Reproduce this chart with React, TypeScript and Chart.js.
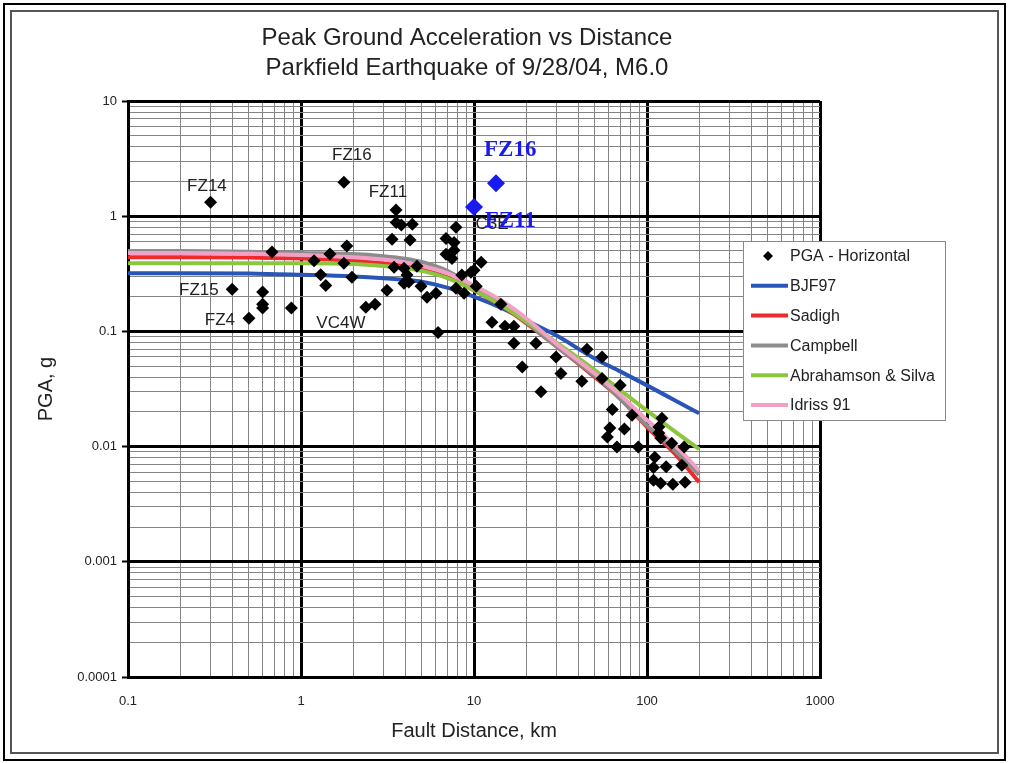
import React, { useEffect, useRef } from 'react';
import { Chart, registerables } from 'chart.js';

Chart.register(...registerables);

// ---------- data ----------
const pgaDistance = [
  0.3, 0.4, 0.5, 0.6, 0.6, 0.6, 0.68, 0.88, 1.19, 1.3, 1.39, 1.47, 1.77, 1.77, 1.84, 1.97,
  2.37, 2.68, 3.14, 3.36, 3.45, 3.54, 3.55, 3.8, 4.4, 3.94, 4.1, 3.94, 4.2, 4.27, 4.68, 4.94,
  5.35, 6.03, 6.2, 6.89, 7.67, 7.87, 6.89, 7.46, 7.67, 7.87, 8.5, 8.76, 9.6, 10.3, 11.0, 10.0,
  14.3, 12.7, 15.1, 17.0, 17.0, 22.8, 19.0, 24.4, 29.8, 31.8, 45, 55, 42, 55, 70, 63, 82, 61,
  74, 59, 67, 89, 122, 117, 117, 120, 139, 164, 111, 109, 129, 159, 109, 120, 141, 166,
];
const pgaValues = [
  1.32, 0.232, 0.13, 0.22, 0.172, 0.16, 0.49, 0.16, 0.41, 0.31, 0.25, 0.47, 1.97, 0.39, 0.55, 0.295,
  0.162, 0.172, 0.228, 0.63, 0.36, 1.13, 0.88, 0.84, 0.85, 0.354, 0.308, 0.262, 0.268, 0.62, 0.368, 0.247,
  0.198, 0.214, 0.098, 0.64, 0.59, 0.8, 0.468, 0.43, 0.507, 0.237, 0.308, 0.214, 0.326, 0.247, 0.398, 0.34,
  0.172, 0.12, 0.111, 0.111, 0.079, 0.079, 0.049, 0.03, 0.06, 0.043, 0.07, 0.06, 0.037, 0.039, 0.034, 0.021, 0.0187, 0.0145,
  0.0142, 0.0121, 0.0099, 0.0099, 0.0176, 0.0148, 0.0131, 0.0119, 0.0107, 0.0099, 0.0081, 0.0066, 0.0067, 0.0069, 0.0051, 0.0048, 0.0047, 0.0049,
];

const overlayDistance = [13.4, 10.0];
const overlayValues = [1.93, 1.2];

const modelDistance = [0.1, 0.2, 0.5, 1, 2, 3, 4, 5, 7, 10, 15, 20, 30, 50, 70, 100, 150, 200];
const bjf97 = [0.32, 0.32, 0.318, 0.31, 0.3, 0.29, 0.28, 0.27, 0.24, 0.2, 0.155, 0.125, 0.092, 0.058, 0.045, 0.034, 0.0245, 0.0195];
const sadigh = [0.44, 0.44, 0.437, 0.43, 0.41, 0.39, 0.368, 0.345, 0.295, 0.228, 0.16, 0.118, 0.074, 0.04, 0.026, 0.0148, 0.0082, 0.0049];
const campbell = [0.5, 0.5, 0.492, 0.48, 0.47, 0.45, 0.428, 0.4, 0.335, 0.245, 0.165, 0.12, 0.074, 0.041, 0.026, 0.0152, 0.0088, 0.0057];
const abrahamsonSilva = [0.39, 0.39, 0.39, 0.39, 0.385, 0.37, 0.355, 0.335, 0.29, 0.228, 0.162, 0.122, 0.08, 0.046, 0.031, 0.0205, 0.013, 0.0095];
const idriss91 = [0.48, 0.48, 0.472, 0.46, 0.44, 0.42, 0.396, 0.37, 0.32, 0.25, 0.178, 0.13, 0.078, 0.043, 0.028, 0.017, 0.0098, 0.0062];

const xTickLabels = ['0.1', '1', '10', '100', '1000'];
const yTickLabels = ['0.0001', '0.001', '0.01', '0.1', '1', '10'];

const titleLines = ['Peak Ground Acceleration vs Distance', 'Parkfield Earthquake of 9/28/04, M6.0'];
const xTitle = 'Fault Distance, km';
const yTitle = 'PGA, g';

// station annotations (anchored in data coordinates)
const stationText = ['FZ14', 'FZ15', 'FZ4', 'VC4W', 'FZ16', 'FZ11', 'C3E'];
const stationX = [0.286, 0.257, 0.34, 1.7, 1.97, 3.18, 12.7];
const stationY = [1.82, 0.228, 0.125, 0.118, 3.39, 1.62, 0.85];
const overlayText = ['FZ16', 'FZ11'];
const overlayTextX = [16.2, 16.2];
const overlayTextY = [3.74, 0.9];

// ---------- helpers ----------
const FONT = '"Liberation Sans", Arial, Helvetica, sans-serif';
const TEXT = '#222222';
const xMajors = xTickLabels.map(Number);
const yMajors = yTickLabels.map(Number);

const isMajor = (majors: number[], v: number) =>
  v != null && majors.some((m) => Math.abs(Math.log10(m) - Math.log10(v)) < 1e-6);

function buildTicks(majors: number[]) {
  const out: { value: number; major: boolean }[] = [];
  majors.forEach((m, i) => {
    out.push({ value: m, major: true });
    if (i < majors.length - 1) {
      for (let k = 2; k <= 9; k++) out.push({ value: Number((m * k).toPrecision(6)), major: false });
    }
  });
  return out;
}

const labelFor = (labels: string[], v: number) =>
  labels.find((l) => Math.abs(Math.log10(Number(l)) - Math.log10(v)) < 1e-6) ?? '';

const pts = (xs: number[], ys: number[]) => xs.map((x, i) => ({ x, y: ys[i] }));

const overlayPlugin = {
  id: 'overlayText',
  afterDatasetsDraw(chart: any) {
    const { ctx } = chart;
    const xs = chart.scales.x;
    const ys = chart.scales.y;
    ctx.save();
    ctx.textAlign = 'center';
    ctx.textBaseline = 'middle';
    ctx.font = `17px ${FONT}`;
    ctx.fillStyle = TEXT;
    stationText.forEach((t, i) => {
      ctx.fillText(t, xs.getPixelForValue(stationX[i]), ys.getPixelForValue(stationY[i]));
    });
    ctx.font = 'bold 23px "Liberation Serif", "Times New Roman", serif';
    ctx.fillStyle = '#1a1aee';
    overlayText.forEach((t, i) => {
      ctx.fillText(t, xs.getPixelForValue(overlayTextX[i]), ys.getPixelForValue(overlayTextY[i]));
    });
    ctx.restore();
  },
  afterDraw(chart: any) {
    const { ctx, chartArea } = chart;
    ctx.save();
    // title
    ctx.textAlign = 'center';
    ctx.textBaseline = 'middle';
    ctx.fillStyle = TEXT;
    ctx.font = `24px ${FONT}`;
    titleLines.forEach((t, i) => ctx.fillText(t, 467, 38 + i * 30));

    // legend
    const items = chart.data.datasets.filter((d: any) => d.inLegend);
    const left = chartArea.right - 77;
    const top = 241;
    const w = 202;
    const h = 179;
    ctx.fillStyle = '#ffffff';
    ctx.fillRect(left, top, w, h);
    ctx.strokeStyle = '#8a8a8a';
    ctx.lineWidth = 1;
    ctx.strokeRect(left + 0.5, top + 0.5, w, h);
    ctx.font = `16px ${FONT}`;
    ctx.textAlign = 'left';
    items.forEach((d: any, i: number) => {
      const cy = top + 15 + i * 29.8;
      if (d.showLine) {
        ctx.strokeStyle = d.borderColor;
        ctx.lineWidth = 4;
        ctx.beginPath();
        ctx.moveTo(left + 8, cy);
        ctx.lineTo(left + 45, cy);
        ctx.stroke();
      } else {
        const cx = left + 25;
        const r = 5;
        ctx.fillStyle = d.pointBackgroundColor;
        ctx.beginPath();
        ctx.moveTo(cx, cy - r);
        ctx.lineTo(cx + r, cy);
        ctx.lineTo(cx, cy + r);
        ctx.lineTo(cx - r, cy);
        ctx.closePath();
        ctx.fill();
      }
      ctx.fillStyle = TEXT;
      ctx.fillText(d.label, left + 47, cy + 1);
    });
    ctx.restore();
  },
};

function lineSet(label: string, ys: number[], color: string, order: number) {
  return {
    label,
    data: pts(modelDistance, ys),
    showLine: true,
    inLegend: true,
    borderColor: color,
    backgroundColor: color,
    borderWidth: 4,
    pointRadius: 0,
    fill: false,
    cubicInterpolationMode: 'monotone',
    order,
  };
}

export default function App() {
  const ref = useRef<HTMLCanvasElement>(null);

  useEffect(() => {
    if (!ref.current) return;
    const chart = new Chart(ref.current, {
      type: 'scatter',
      data: {
        datasets: [
          {
            label: 'Overlay',
            data: pts(overlayDistance, overlayValues),
            inLegend: false,
            pointStyle: 'rectRot',
            pointRadius: 9,
            pointBackgroundColor: '#1a1aee',
            pointBorderWidth: 0,
            order: 0,
          } as any,
          {
            label: 'PGA - Horizontal',
            data: pts(pgaDistance, pgaValues),
            inLegend: true,
            pointStyle: 'rectRot',
            pointRadius: 6.5,
            pointBackgroundColor: '#000000',
            pointBorderWidth: 0,
            order: 1,
          } as any,
          lineSet('BJF97', bjf97, '#2a55b8', 6) as any,
          lineSet('Sadigh', sadigh, '#ee2a2a', 5) as any,
          lineSet('Campbell', campbell, '#8c8c8c', 4) as any,
          lineSet('Abrahamson & Silva', abrahamsonSilva, '#8cc63f', 3) as any,
          lineSet('Idriss 91', idriss91, '#f2a0c6', 2) as any,
        ],
      },
      options: {
        responsive: false,
        animation: false,
        events: [],
        layout: { padding: { top: 101, right: 189, left: 0, bottom: 0 } },
        plugins: {
          legend: { display: false },
          title: { display: false },
          tooltip: { enabled: false },
        },
        scales: {
          x: {
            type: 'logarithmic',
            position: 'bottom',
            min: 0.1,
            max: 1000,
            afterBuildTicks: (s: any) => {
              s.ticks = buildTicks(xMajors);
            },
            afterFit: (s: any) => {
              s.height = 86;
            },
            ticks: {
              autoSkip: false,
              maxRotation: 0,
              padding: 17,
              color: TEXT,
              font: { family: FONT, size: 13 },
              callback: (v: any) => labelFor(xTickLabels, Number(v)),
            },
            grid: {
              drawTicks: false,
              color: (c: any) => (isMajor(xMajors, c.tick?.value) ? '#000000' : '#858585'),
              lineWidth: (c: any) => (isMajor(xMajors, c.tick?.value) ? 3 : 1),
            },
            border: { color: '#000000', width: 3 },
            title: {
              display: true,
              text: xTitle,
              color: TEXT,
              font: { family: FONT, size: 20 },
              padding: { top: 4, bottom: 20 },
            },
          },
          y: {
            type: 'logarithmic',
            position: 'left',
            min: 0.0001,
            max: 10,
            afterBuildTicks: (s: any) => {
              s.ticks = buildTicks(yMajors);
            },
            afterFit: (s: any) => {
              s.width = 128;
            },
            ticks: {
              autoSkip: false,
              padding: 5,
              color: TEXT,
              font: { family: FONT, size: 13 },
              callback: (v: any) => labelFor(yTickLabels, Number(v)),
            },
            grid: {
              drawTicks: true,
              tickLength: 6,
              tickWidth: 2,
              tickColor: (c: any) => (isMajor(yMajors, c.tick?.value) ? '#000000' : 'rgba(0,0,0,0)'),
              color: (c: any) => (isMajor(yMajors, c.tick?.value) ? '#000000' : '#858585'),
              lineWidth: (c: any) => (isMajor(yMajors, c.tick?.value) ? 3 : 1),
            },
            border: { color: '#000000', width: 3 },
            title: {
              display: true,
              text: yTitle,
              color: TEXT,
              font: { family: FONT, size: 20 },
              padding: { top: 34, bottom: 0 },
            },
          },
        },
      } as any,
      plugins: [overlayPlugin],
    });
    return () => chart.destroy();
  }, []);

  return (
    <div
      style={{
        position: 'absolute',
        left: 0,
        top: 0,
        width: 1009,
        height: 763,
        background: '#ffffff',
        overflow: 'hidden',
      }}
    >
      <div
        style={{
          position: 'absolute',
          left: 3,
          top: 3,
          width: 1003,
          height: 758,
          border: '2px solid #000',
          boxSizing: 'border-box',
        }}
      />
      <div
        style={{
          position: 'absolute',
          left: 10,
          top: 10,
          width: 989,
          height: 744,
          border: '2px solid #555',
          boxSizing: 'border-box',
        }}
      />
      <canvas
        ref={ref}
        width={1009}
        height={763}
        style={{ position: 'absolute', left: 0, top: 0, width: 1009, height: 763 }}
      />
    </div>
  );
}
